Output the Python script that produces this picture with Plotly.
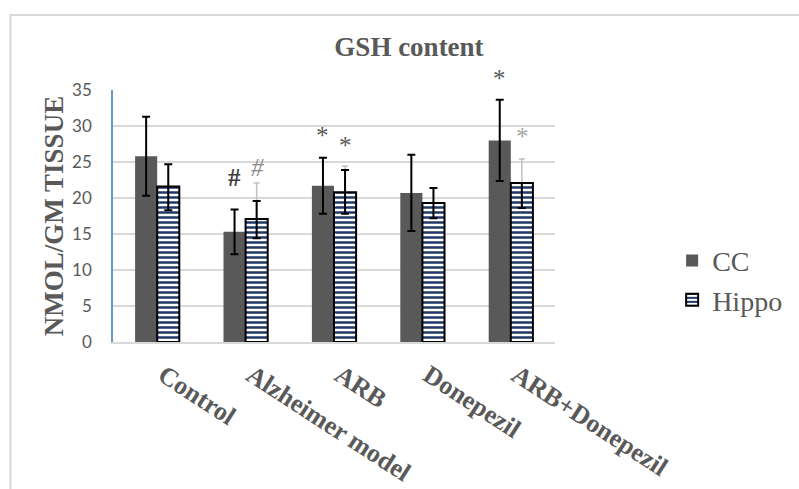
import plotly.graph_objects as go

categories = ["Control", "Alzheimer model", "ARB", "Donepezil", "ARB+Donepezil"]
cc_values = [25.8, 15.3, 21.7, 20.7, 28.0]
cc_err = [5.5, 3.1, 3.9, 5.3, 5.65]
hippo_values = [21.6, 17.1, 20.8, 19.3, 22.1]
hippo_err_plus = [3.1, 2.5, 3.1, 2.1, 0.0]
hippo_err_minus = [3.3, 2.7, 3.0, 2.1, 3.5]
hippo_gray_plus = [0.0, 5.0, 3.6, 0.0, 3.3]
y_ticks = [0, 5, 10, 15, 20, 25, 30, 35]
y_max = 35

mark_cat = ["Alzheimer model", "Alzheimer model", "ARB", "ARB", "ARB+Donepezil", "ARB+Donepezil"]
mark_series = ["CC", "Hippo", "CC", "Hippo", "CC", "Hippo"]
mark_text = ["#", "#", "*", "*", "*", "*"]
mark_y = [22.8, 24.3, 29.5, 28.1, 37.4, 29.4]
mark_color = ["#404040", "#8c8c8c", "#595959", "#595959", "#595959", "#a6a6a6"]
mark_style = ["bold", "italic", "normal", "normal", "normal", "normal"]

SERIF = "Liberation Serif"
GRAY = "#595959"

fig = go.Figure()
fig.add_trace(go.Bar(
    x=categories, y=cc_values, name="CC", offsetgroup="c",
    marker=dict(color="#595959", line=dict(width=0)),
    error_y=dict(type="data", array=cc_err, color="black", thickness=2, width=4),
))
fig.add_trace(go.Bar(
    x=categories, y=hippo_values, name="gray", offsetgroup="h", showlegend=False,
    marker=dict(color="rgba(0,0,0,0)", line=dict(width=0)),
    error_y=dict(type="data", symmetric=False, array=hippo_gray_plus,
                 arrayminus=[0] * len(categories), color="#bfbfbf", thickness=1.5, width=3),
))
fig.add_trace(go.Bar(
    x=categories, y=hippo_values, name="Hippo", offsetgroup="h",
    marker=dict(color="white", line=dict(color="black", width=2),
                pattern=dict(shape="-", fgcolor="#1f3864", fgopacity=1, size=5, solidity=0.5,
                             fillmode="overlay")),
    error_y=dict(type="data", symmetric=False, array=hippo_err_plus,
                 arrayminus=hippo_err_minus, color="black", thickness=2, width=4),
))

for c, s, t, yv, col, st in zip(mark_cat, mark_series, mark_text, mark_y, mark_color, mark_style):
    fig.add_annotation(
        x=c, y=yv / y_max, xref="x", yref="y domain", text=t, showarrow=False,
        xanchor="center", yanchor="middle",
        xshift=-11.5 if s == "CC" else 11.5,
        yshift=-6 if t == "*" else 0,
        font=dict(family=SERIF, size=25, color=col,
                  weight="bold" if st == "bold" else "normal",
                  style="italic" if st == "italic" else "normal"),
    )

fig.add_shape(type="rect", xref="paper", yref="paper",
              x0=-0.232, x1=1.6, y0=-0.7, y1=1.2976,
              line=dict(color="#d9d9d9", width=2), fillcolor="rgba(0,0,0,0)", layer="below")

fig.update_layout(
    width=799, height=489,
    margin=dict(l=113, r=226, t=90, b=147),
    paper_bgcolor="white", plot_bgcolor="white",
    barmode="group", bargap=0.5, bargroupgap=0,
    title=dict(text="<b>GSH content</b>", x=409 / 799, xanchor="center",
               y=1 - 47 / 489, yanchor="middle",
               font=dict(family=SERIF, size=27, color=GRAY)),
    legend=dict(x=1.265, xanchor="left", y=0.245, yanchor="middle",
                font=dict(family=SERIF, size=28, color=GRAY),
                tracegroupgap=4, itemwidth=30, bgcolor="rgba(0,0,0,0)"),
    showlegend=True,
    xaxis=dict(tickangle=33, tickfont=dict(family=SERIF, size=26, color=GRAY, weight="bold"),
               showline=True, linecolor="#d9d9d9", linewidth=2, showgrid=False,
               ticks="", ticklabelstandoff=6, ticklabelshift=6, automargin=False),
    yaxis=dict(range=[0, y_max], tickvals=y_ticks, showgrid=True, gridcolor="#d9d9d9",
               gridwidth=1.5, showline=True, linecolor="#5b9bd5", linewidth=1.5,
               zeroline=False, automargin=False,
               tickfont=dict(family="Lato", size=17, color=GRAY),
               ticklabelstandoff=16,
               title=dict(text="NMOL/GM TISSUE", standoff=1,
                          font=dict(family=SERIF, size=27, color=GRAY, weight="bold"))),
)

fig.write_html("out.html")
